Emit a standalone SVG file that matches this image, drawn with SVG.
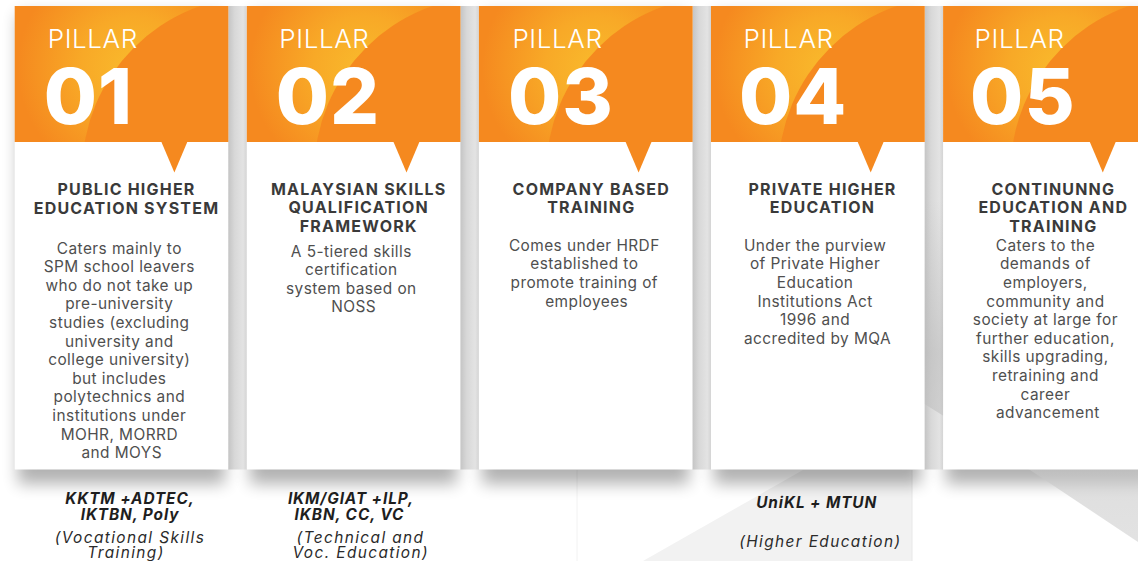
<svg xmlns="http://www.w3.org/2000/svg" width="1138" height="561" viewBox="0 0 1138 561">
<style>
.body{font-family:Inter,"DejaVu Sans",sans-serif;font-size:15.4px;fill:#4f4f4f;text-anchor:middle;letter-spacing:0.45px}
.title{font-family:Inter,"DejaVu Sans",sans-serif;font-size:16px;font-weight:700;fill:#3a3a3a;text-anchor:middle;letter-spacing:1.2px}
.pill{font-family:Inter,"DejaVu Sans",sans-serif;font-size:26px;font-weight:300;fill:#ffffff;letter-spacing:0.6px}
.num{font-family:Inter,"DejaVu Sans",sans-serif;font-size:77px;font-weight:800;fill:#ffffff;letter-spacing:1px}
.lb{font-family:Inter,"DejaVu Sans",sans-serif;font-size:15.4px;font-weight:700;font-style:italic;fill:#1e1e1e;text-anchor:middle;letter-spacing:0.9px}
.li{font-family:Inter,"DejaVu Sans",sans-serif;font-size:15.4px;font-style:italic;fill:#2a2a2a;text-anchor:middle;letter-spacing:1.4px}
.hdr{fill:url(#glow)}
.arc{fill:#f5891f}
.ptr{fill:#f5891f}
.card{fill:#ffffff}
.shd{fill:#000000;opacity:0.3;filter:url(#blur)}
.gap{fill:url(#gapg)}
</style>
<defs>
<radialGradient id="glow" gradientUnits="userSpaceOnUse" cx="118" cy="62" r="115">
<stop offset="0" stop-color="#f9ba2c"/>
<stop offset="0.45" stop-color="#f8a927"/>
<stop offset="1" stop-color="#f5891f"/>
</radialGradient>
<clipPath id="hclip"><rect x="0" y="0" width="213.5" height="136"/></clipPath>
<filter id="blur" x="-20%" y="-20%" width="140%" height="140%"><feGaussianBlur stdDeviation="8"/></filter>
<linearGradient id="gapg" x1="0" y1="0" x2="1" y2="0">
<stop offset="0" stop-color="#c4c4c4"/>
<stop offset="0.35" stop-color="#d8d8d8"/>
<stop offset="0.8" stop-color="#e3e3e3"/>
<stop offset="1" stop-color="#d4d4d4"/>
</linearGradient>
<linearGradient id="tri" gradientUnits="userSpaceOnUse" x1="0" y1="200" x2="0" y2="540">
<stop offset="0" stop-color="#b8b8b8" stop-opacity="0"/>
<stop offset="0.45" stop-color="#b8b8b8" stop-opacity="0.55"/>
<stop offset="1" stop-color="#cfcfcf" stop-opacity="0.6"/>
</linearGradient>
<g id="header">
<rect class="hdr" x="0" y="0" width="213.5" height="136"/>
<circle class="arc" cx="243" cy="166" r="175.5" clip-path="url(#hclip)"/>
<polygon class="ptr" points="146.3,135 173,135 159.7,166.5"/>
</g>
</defs>

<rect x="0" y="0" width="1138" height="561" fill="#ffffff"/>

<g id="background">
<polygon points="643,561 803,470 912,470 912,561" fill="#f2f2f2"/>
<line x1="912" y1="470" x2="912" y2="561" stroke="#e8e8e8" stroke-width="1"/>
<line x1="577" y1="470" x2="577" y2="561" stroke="#f2f2f2" stroke-width="1"/>
</g>

<g id="shadows">
<rect class="shd" x="18" y="14" width="207" height="470"/>
<rect class="shd" x="250" y="14" width="207" height="470"/>
<rect class="shd" x="482" y="14" width="207" height="470"/>
<rect class="shd" x="714" y="14" width="207" height="470"/>
<rect class="shd" x="946" y="14" width="207" height="470"/>
<rect class="gap" x="228.2" y="6" width="18.6" height="463.5"/>
<rect class="gap" x="460.3" y="6" width="18.6" height="463.5"/>
<rect class="gap" x="692.4" y="6" width="18.6" height="463.5"/>
<rect class="gap" x="924.5" y="6" width="18.6" height="463.5"/>
<polygon points="924.5,200 1138,200 1138,542 1030,470 924.5,404" fill="url(#tri)"/>
</g>

<g id="pillar1">
<g transform="translate(14.7,6)">
<rect class="card" x="0" y="0" width="213.5" height="463.5"/>
<use href="#header"/>
<text class="pill" x="33" y="42.3">PILLAR</text>
<text class="num" x="29" y="118">01</text>
</g>
<text class="title"><tspan x="126.5" y="195">PUBLIC HIGHER</tspan><tspan x="126.5" y="213.5">EDUCATION SYSTEM</tspan></text>
<text class="body">
<tspan x="121.7" y="253.5">Caters mainly to</tspan>
<tspan x="121.7" y="272.1">SPM school leavers</tspan>
<tspan x="121.7" y="290.7">who do not take up</tspan>
<tspan x="121.7" y="309.3">pre-university</tspan>
<tspan x="121.7" y="327.9">studies (excluding</tspan>
<tspan x="121.7" y="346.5">university and</tspan>
<tspan x="121.7" y="365.1">college university)</tspan>
<tspan x="121.7" y="383.7">but includes</tspan>
<tspan x="121.7" y="402.3">polytechnics and</tspan>
<tspan x="121.7" y="420.9">institutions under</tspan>
<tspan x="121.7" y="439.5">MOHR, MORRD</tspan>
<tspan x="121.7" y="458.1">and MOYS</tspan>
</text>
</g>

<g id="pillar2">
<g transform="translate(246.8,6)">
<rect class="card" x="0" y="0" width="213.5" height="463.5"/>
<use href="#header"/>
<text class="pill" x="32.5" y="42.3">PILLAR</text>
<text class="num" x="29" y="118">02</text>
</g>
<text class="title"><tspan x="358.7" y="194.5">MALAYSIAN SKILLS</tspan><tspan x="358.7" y="213">QUALIFICATION</tspan><tspan x="358.7" y="231.5">FRAMEWORK</tspan></text>
<text class="body">
<tspan x="353.7" y="256.7">A 5-tiered skills</tspan>
<tspan x="353.7" y="275.2">certification</tspan>
<tspan x="353.7" y="293.7">system based on</tspan>
<tspan x="353.7" y="312.2">NOSS</tspan>
</text>
</g>

<g id="pillar3">
<g transform="translate(478.9,6)">
<rect class="card" x="0" y="0" width="213.5" height="463.5"/>
<use href="#header"/>
<text class="pill" x="33.5" y="42.3">PILLAR</text>
<text class="num" x="29" y="118">03</text>
</g>
<text class="title"><tspan x="591.3" y="194.5">COMPANY BASED</tspan><tspan x="591.3" y="213">TRAINING</tspan></text>
<text class="body">
<tspan x="586.7" y="250.7">Comes under HRDF</tspan>
<tspan x="586.7" y="269.3">established to</tspan>
<tspan x="586.7" y="287.9">promote training of</tspan>
<tspan x="586.7" y="306.5">employees</tspan>
</text>
</g>

<g id="pillar4">
<g transform="translate(711,6)">
<rect class="card" x="0" y="0" width="213.5" height="463.5"/>
<use href="#header"/>
<text class="pill" x="32.5" y="42.3">PILLAR</text>
<text class="num" x="28" y="118">04</text>
</g>
<text class="title"><tspan x="822.5" y="194.5">PRIVATE HIGHER</tspan><tspan x="822.5" y="213">EDUCATION</tspan></text>
<text class="body">
<tspan x="817.5" y="250.7">Under the purview</tspan>
<tspan x="817.5" y="269.3">of Private Higher</tspan>
<tspan x="817.5" y="287.9">Education</tspan>
<tspan x="817.5" y="306.5">Institutions Act</tspan>
<tspan x="817.5" y="325.1">1996 and</tspan>
<tspan x="817.5" y="343.7">accredited by MQA</tspan>
</text>
</g>

<g id="pillar5">
<g transform="translate(943.1,6)">
<rect class="card" x="0" y="0" width="213.5" height="463.5"/>
<use href="#header"/>
<text class="pill" x="31.5" y="42.3">PILLAR</text>
<text class="num" x="27" y="118">05</text>
</g>
<text class="title"><tspan x="1053.3" y="194.5">CONTINUNNG</tspan><tspan x="1053.3" y="213">EDUCATION AND</tspan><tspan x="1053.3" y="231.5">TRAINING</tspan></text>
<text class="body">
<tspan x="1047.8" y="250.7">Caters to the</tspan>
<tspan x="1047.8" y="269.3">demands of</tspan>
<tspan x="1047.8" y="287.9">employers,</tspan>
<tspan x="1047.8" y="306.5">community and</tspan>
<tspan x="1047.8" y="325.1">society at large for</tspan>
<tspan x="1047.8" y="343.7">further education,</tspan>
<tspan x="1047.8" y="362.3">skills upgrading,</tspan>
<tspan x="1047.8" y="380.9">retraining and</tspan>
<tspan x="1047.8" y="399.5">career</tspan>
<tspan x="1047.8" y="418.1">advancement</tspan>
</text>
</g>

<g id="label1">
<text class="lb"><tspan x="130" y="503.5">KKTM +ADTEC,</tspan><tspan x="130" y="519.5">IKTBN, Poly</tspan></text>
<text class="li"><tspan x="130" y="542.5">(Vocational Skills</tspan><tspan x="126" y="557.5">Training)</tspan></text>
</g>
<g id="label2">
<text class="lb"><tspan x="351" y="503.5">IKM/GIAT +ILP,</tspan><tspan x="349.5" y="519.5">IKBN, CC, VC</tspan></text>
<text class="li"><tspan x="360.5" y="542.5">(Technical and</tspan><tspan x="360.8" y="557.5">Voc. Education)</tspan></text>
</g>
<g id="label4">
<text class="lb" x="816.7" y="508.3">UniKL + MTUN</text>
<text class="li" x="820.3" y="546.7">(Higher Education)</text>
</g>
<g id="connectors"/>
</svg>
